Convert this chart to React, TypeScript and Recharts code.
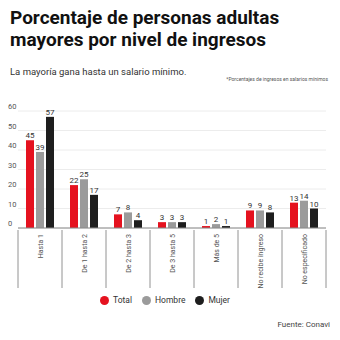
import React from 'react';
import { BarChart, Bar, XAxis, YAxis, CartesianGrid, LabelList } from 'recharts';

const categories = ['Hasta 1', 'De 1 hasta 2', 'De 2 hasta 3', 'De 3 hasta 5', 'Más de 5', 'No recibe ingreso', 'No especificado'];
const totalValues = [45, 22, 7, 3, 1, 9, 13];
const hombreValues = [39, 25, 8, 3, 2, 9, 14];
const mujerValues = [57, 17, 4, 3, 1, 8, 10];
const yTicks = [0, 10, 20, 30, 40, 50, 60];

const data = categories.map((name, i) => ({
  name,
  total: totalValues[i],
  hombre: hombreValues[i],
  mujer: mujerValues[i],
}));

const RED = '#e5121f';
const GRAY = '#9b9b9b';
const BLACK = '#1e1e1e';
const FONT = 'Roboto, "Noto Sans", sans-serif';

const CHART_W = 340;
const Y_W = 18;
const RIGHT = 14;
const bandWidth = (CHART_W - Y_W - RIGHT) / categories.length;

const XTick = (props: any) => {
  const { x, y, payload, index } = props;
  const last = index === categories.length - 1;
  return (
    <g>
      <line x1={x - bandWidth / 2} y1={y} x2={x - bandWidth / 2} y2={y + 58} stroke="#777" strokeWidth={0.8} />
      {last && <line x1={x + bandWidth / 2} y1={y} x2={x + bandWidth / 2} y2={y + 58} stroke="#777" strokeWidth={0.8} />}
      <text
        x={0}
        y={0}
        transform={`translate(${x + 2.5},${y + 4}) rotate(-90)`}
        textAnchor="end"
        fontSize={7}
        fill="#555"
        fontFamily={FONT}
      >
        {payload.value}
      </text>
    </g>
  );
};

const YTick = (props: any) => {
  const { y, payload } = props;
  return (
    <text x={8} y={y} dy={-2} textAnchor="start" fontSize={7.5} fill="#555" fontFamily={FONT}>
      {payload.value}
    </text>
  );
};

const LegendItem = ({ color, label }: { color: string; label: string }) => (
  <span style={{ display: 'inline-flex', alignItems: 'center', marginRight: 10 }}>
    <span style={{ width: 9, height: 9, borderRadius: '50%', background: color, display: 'inline-block', marginRight: 4 }} />
    <span>{label}</span>
  </span>
);

const App: React.FC = () => {
  return (
    <div style={{ position: 'absolute', left: 0, top: 0, width: 340, height: 340, background: '#fff', fontFamily: FONT, color: '#222' }}>
      <div style={{ position: 'absolute', left: 10, top: 7, fontSize: 19, fontWeight: 700, lineHeight: '22px', color: '#111' }}>
        Porcentaje de personas adultas<br />mayores por nivel de ingresos
      </div>
      <div style={{ position: 'absolute', left: 10, top: 66, fontSize: 9.5, color: '#333' }}>
        La mayoría gana hasta un salario mínimo.
      </div>
      <div style={{ position: 'absolute', right: 12, top: 76, fontSize: 5, color: '#555' }}>
        *Porcentajes de ingresos en salarios mínimos
      </div>
      <div style={{ position: 'absolute', left: 0, top: 101 }}>
        <BarChart
          width={CHART_W}
          height={200}
          data={data}
          margin={{ top: 10, right: RIGHT, left: 0, bottom: 0 }}
          barSize={8}
          barGap={2}
        >
          <CartesianGrid vertical={false} stroke="#ececec" />
          <XAxis
            dataKey="name"
            interval={0}
            tickLine={false}
            tickSize={0}
            height={73}
            axisLine={{ stroke: '#888' }}
            tick={<XTick />}
          />
          <YAxis
            width={Y_W}
            domain={[0, 60]}
            ticks={yTicks}
            interval={0}
            axisLine={false}
            tickLine={false}
            tick={<YTick />}
          />
          <Bar dataKey="total" fill={RED} isAnimationActive={false}>
            <LabelList dataKey="total" position="top" offset={2} fontSize={8} fill="#333" fontFamily={FONT} />
          </Bar>
          <Bar dataKey="hombre" fill={GRAY} isAnimationActive={false}>
            <LabelList dataKey="hombre" position="top" offset={2} fontSize={8} fill="#333" fontFamily={FONT} />
          </Bar>
          <Bar dataKey="mujer" fill={BLACK} isAnimationActive={false}>
            <LabelList dataKey="mujer" position="top" offset={2} fontSize={8} fill="#333" fontFamily={FONT} />
          </Bar>
        </BarChart>
      </div>
      <div style={{ position: 'absolute', left: 0, width: 340, top: 295, textAlign: 'center', fontSize: 8.5, color: '#333', display: 'flex', justifyContent: 'center' }}>
        <LegendItem color={RED} label="Total" />
        <LegendItem color={GRAY} label="Hombre" />
        <LegendItem color={BLACK} label="Mujer" />
      </div>
      <div style={{ position: 'absolute', right: 10, top: 320, fontSize: 8, color: '#444' }}>
        Fuente: Conavi
      </div>
    </div>
  );
};

export default App;
